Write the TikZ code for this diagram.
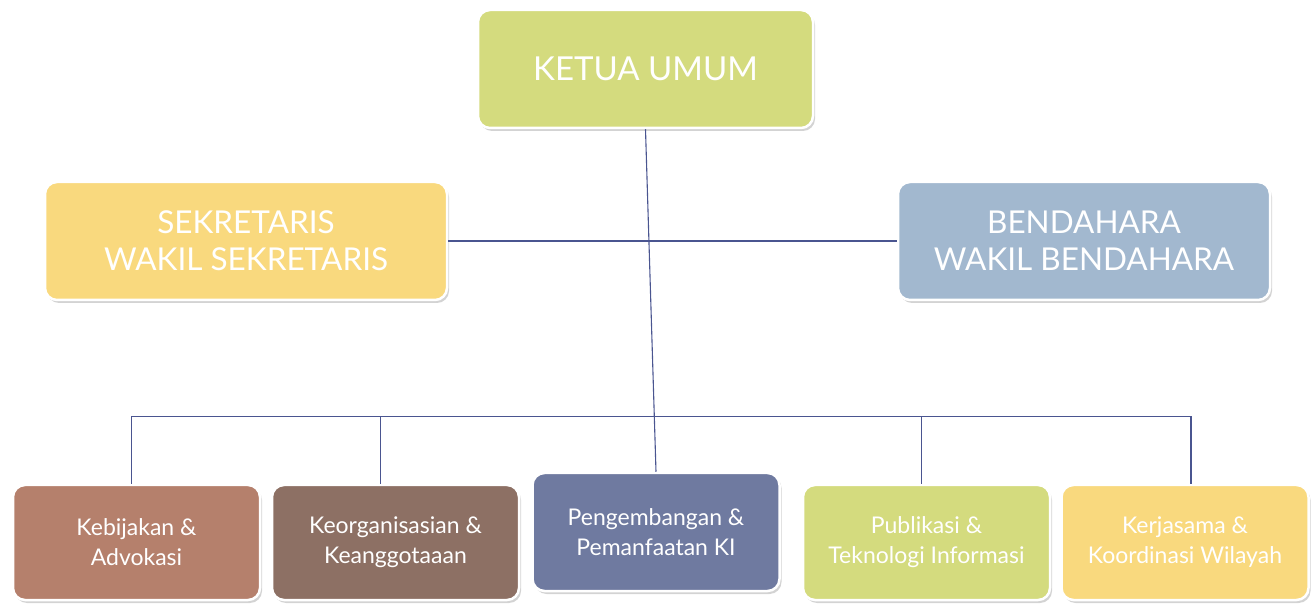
\documentclass[tikz,border=0pt]{standalone}
\usepackage{fontspec}
\setmainfont{Lato}
\usetikzlibrary{shadows}

\definecolor{olive}{HTML}{D4DB7E}
\definecolor{sand}{HTML}{F9D97E}
\definecolor{steel}{HTML}{A2B8CF}
\definecolor{clay}{HTML}{B5806C}
\definecolor{umber}{HTML}{8D7064}
\definecolor{slate}{HTML}{6F7AA0}
\definecolor{wire}{HTML}{4A5590}

\tikzset{
  unit/.style={draw=white, line width=2.5pt, rounded corners=12pt,
    text=white, align=center, inner sep=0pt,
    drop shadow={opacity=0.35, shadow xshift=2pt, shadow yshift=-3pt}},
  top/.style={unit, minimum height=118pt, font=\fontsize{31.5}{37}\selectfont},
  dept/.style={unit, minimum width=247pt, minimum height=115pt,
    font=\fontsize{23}{30}\selectfont},
  link/.style={draw=wire, line width=1.1pt}
}

\begin{document}
\begin{tikzpicture}[x=1pt, y=1pt]
    \useasboundingbox (0,0) rectangle (1314,605);

    % pimpinan
    \node[top, fill=olive, minimum width=335pt, font=\fontsize{33}{37}\selectfont] (ketua) at (645.5,536) {KETUA UMUM};
    \node[top, fill=sand, minimum width=402pt] (sekr) at (246,364) {SEKRETARIS\\WAKIL SEKRETARIS};
    \node[top, fill=steel, minimum width=372pt] (bend) at (1084,364) {BENDAHARA\\WAKIL BENDAHARA};

    % bidang
    \node[dept, fill=clay] (kebij) at (136.5,62.5) {Kebijakan \&\\Advokasi};
    \node[dept, fill=umber] (keorg) at (395.5,62.5) {Keorganisasian \&\\Keanggotaaan};
    \node[dept, fill=slate, minimum height=118pt] (kembang) at (656,73) {Pengembangan \&\\Pemanfaatan KI};
    \node[dept, fill=olive] (publik) at (926.5,62.5) {Publikasi \&\\Teknologi Informasi};
    \node[dept, fill=sand] (kerja) at (1185,62.5) {Kerjasama \&\\Koordinasi Wilayah};

    % garis
    \draw[link] (sekr.east) -- (bend.west);
    \draw[link] (ketua.south) -- (kembang.north);
    \draw[link] ([xshift=-5pt]kebij.north) -- ++(0,67) -| ([xshift=6pt]kerja.north);
    \draw[link] ([xshift=-15pt]keorg.north) -- ++(0,67);
    \draw[link] ([xshift=-5pt]publik.north) -- ++(0,67);
\end{tikzpicture}
\end{document}
